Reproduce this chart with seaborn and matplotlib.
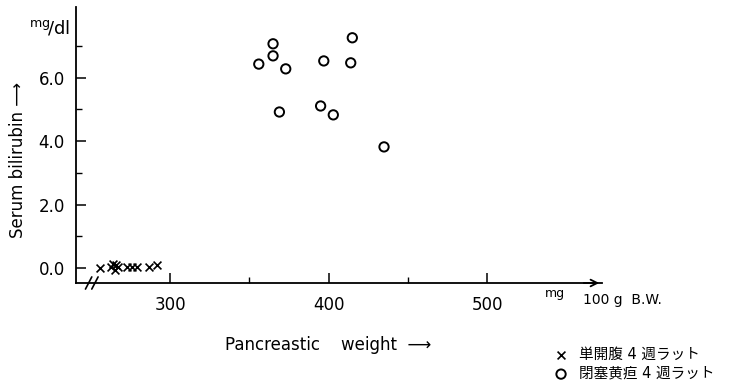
import numpy as np
import pandas as pd
import seaborn as sns
import matplotlib.pyplot as plt

# sham-operated rats (x) and obstructive jaundice rats (o)
sham_weight = [256, 263, 264, 265, 266, 267, 273, 276, 279, 287, 292]
sham_bilirubin = [0.0, 0.05, 0.12, -0.05, 0.1, 0.02, 0.02, 0.03, 0.03, 0.02, 0.1]

jaundice_weight = [365, 365, 356, 373, 397, 415, 414, 369, 395, 403, 435]
jaundice_bilirubin = [7.07, 6.69, 6.43, 6.28, 6.53, 7.26, 6.47, 4.92, 5.11, 4.83, 3.82]

group_labels = ["単開腹 4 週ラット", "閉塞黄疸 4 週ラット"]
x_ticks = [300, 400, 500]
x_minor = [350, 450]
y_ticks = [0.0, 2.0, 4.0, 6.0]
y_minor = [1.0, 3.0, 5.0, 7.0]

sns.set_style("ticks")
plt.rcParams["font.family"] = ["DejaVu Sans", "Noto Sans CJK JP"]
plt.rcParams["text.color"] = "black"
plt.rcParams["axes.labelcolor"] = "black"
plt.rcParams["xtick.color"] = "black"
plt.rcParams["ytick.color"] = "black"

sham = pd.DataFrame({"weight": sham_weight, "bilirubin": sham_bilirubin})
jaundice = pd.DataFrame({"weight": jaundice_weight, "bilirubin": jaundice_bilirubin})

W, H = 735, 384
fig = plt.figure(figsize=(W / 100, H / 100), dpi=100)
ax = fig.add_axes([76 / W, 1 - 283 / H, (602 - 76) / W, (283 - 7) / H])

sns.scatterplot(data=sham, x="weight", y="bilirubin", marker="x", color="black",
                s=32, linewidth=1.2, label=group_labels[0], ax=ax, clip_on=False)
sns.scatterplot(data=jaundice, x="weight", y="bilirubin", marker="o", facecolor="none",
                edgecolor="black", s=45, linewidth=1.4, label=group_labels[1], ax=ax, clip_on=False)

ax.set_xlim(240.7, 572.5)
ax.set_ylim(-0.47, 8.23)
ax.set_xticks(x_ticks)
ax.set_xticks(x_minor, minor=True)
ax.set_yticks(y_ticks)
ax.set_yticks(y_minor, minor=True)
ax.set_yticklabels([f"{v:.1f}" for v in y_ticks])
ax.tick_params(axis="both", which="major", direction="in", length=7, width=1.1,
               labelsize=12, color="black", labelcolor="black")
ax.tick_params(axis="both", which="minor", direction="in", length=4, width=1.0, color="black")
ax.tick_params(axis="x", pad=9)
ax.tick_params(axis="y", pad=8)
ax.set_xlabel("")
ax.set_ylabel("")
for side in ["top", "right"]:
    ax.spines[side].set_visible(False)
for side in ["left", "bottom"]:
    ax.spines[side].set_color("black")
    ax.spines[side].set_linewidth(1.3)

# arrow head at the end of the x axis
ax.annotate("", xy=(1.0, 0), xytext=(0.96, 0), xycoords="axes fraction",
            arrowprops=dict(arrowstyle="->", color="black", lw=1.3, mutation_scale=12))

# axis break marks
for dx in [0.0, 0.012]:
    ax.plot([0.018 + dx, 0.030 + dx], [-0.022, 0.022], transform=ax.transAxes,
            color="black", lw=1.2, clip_on=False)

leg = ax.legend(loc="upper left", bbox_to_anchor=(545 / W, 1 - 340 / H),
                bbox_transform=fig.transFigure, frameon=False, fontsize=10.5,
                handletextpad=0.6, labelspacing=0.25, borderpad=0, handlelength=1.2)
for t in leg.get_texts():
    t.set_color("black")

def fx(px):
    return px / W

def fy(py):
    return 1 - py / H

fig.text(fx(18), fy(160), "Serum bilirubin ⟶", rotation=90, fontsize=12,
         ha="center", va="center")
fig.text(fx(29), fy(28), r"$^{\mathrm{mg}}\!/\mathrm{dl}$", fontsize=13, ha="left", va="center")
fig.text(fx(225), fy(345), "Pancreastic    weight  ⟶", fontsize=12, ha="left", va="center")
fig.text(fx(545), fy(294), "mg", fontsize=9, ha="left", va="center")
fig.text(fx(583), fy(300), "100 g  B.W.", fontsize=10, ha="left", va="center")

fig.savefig("out.png", dpi=100)
